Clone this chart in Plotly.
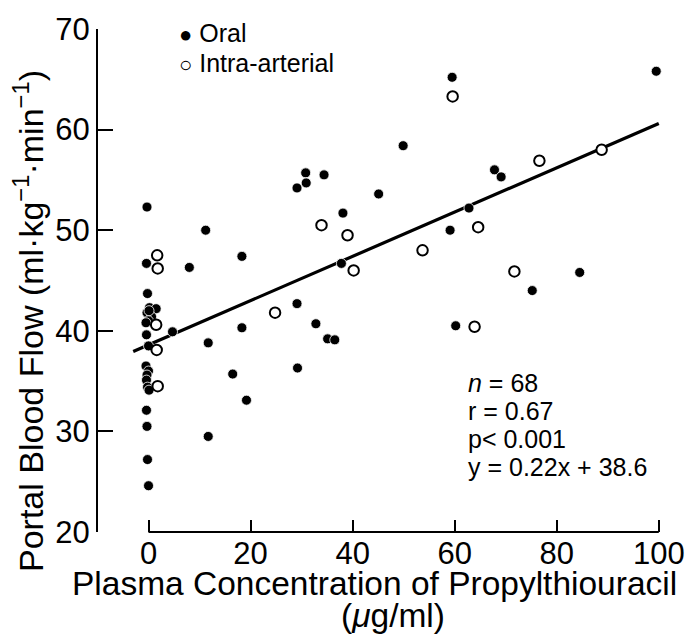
import plotly.graph_objects as go

# ==========================================
# DATA
# ==========================================
oral_x = [-0.3, -0.4, 8.0, -0.2, 0.2, 1.5, -0.3, 0.6, 0.0, -0.5, 4.7, -0.4, 0.0,
          -0.5, 0.0, -0.3, -0.4, -0.2, 0.1, -0.4, -0.3, -0.2, 0.0, 0.1,
          11.2, 11.7, 11.7, 16.5, 18.3, 18.3, 19.2, 29.1, 29.2, 29.1, 30.8, 30.9,
          32.8, 34.4, 35.1, 36.5, 37.8, 38.1, 45.1, 49.9, 59.1, 59.5, 60.2, 62.8,
          67.8, 69.1, 75.2, 84.5, 99.5]
oral_y = [52.3, 46.7, 46.3, 43.7, 42.3, 42.2, 41.8, 41.4, 41.0, 40.8, 39.9, 39.6, 38.5,
          36.5, 36.0, 35.6, 35.1, 34.4, 34.1, 32.1, 30.5, 27.2, 24.6, 42.0,
          50.0, 38.8, 29.5, 35.7, 40.3, 47.4, 33.1, 42.7, 36.3, 54.2, 55.7, 54.7,
          40.7, 55.5, 39.2, 39.1, 46.7, 51.7, 53.6, 58.4, 50.0, 65.2, 40.5, 52.2,
          56.0, 55.3, 44.0, 45.8, 65.8]

ia_x = [1.7, 1.8, 1.5, 1.6, 1.8, 24.8, 33.9, 39.0, 40.2, 53.7, 59.6, 64.6, 63.9,
        71.7, 76.6, 88.8]
ia_y = [47.5, 46.2, 40.6, 38.1, 34.5, 41.8, 50.5, 49.5, 46.0, 48.0, 63.3, 50.3, 40.4,
        45.9, 56.9, 58.0]

# regression reported on the figure
slope = 0.22
intercept = 38.6
fit_x = [-3.0, 100.0]
fit_y = [slope * v + intercept for v in fit_x]

x_ticks = [0, 20, 40, 60, 80, 100]
y_ticks = [20, 30, 40, 50, 60, 70]

stats_lines = ["<i>n</i> = 68", "r = 0.67", "p< 0.001", "y = 0.22x + 38.6"]
legend_labels = ["Oral", "Intra-arterial"]
legend_glyphs = ["●", "○"]

x_title = ["Plasma Concentration of Propylthiouracil", "(<i>μ</i>g/ml)"]
y_title = "Portal Blood Flow (ml·kg<sup>−1</sup>·min<sup>−1</sup>)"

FONT = "Liberation Sans, Arial, Helvetica, sans-serif"

# plot area in pixels (used to place the free text)
PLOT_TOP, PLOT_BOTTOM = 23, 532
PLOT_LEFT, PLOT_RIGHT = 98, 673


def py(pix):
    return (PLOT_BOTTOM - pix) / (PLOT_BOTTOM - PLOT_TOP)


def px(pix):
    return (pix - PLOT_LEFT) / (PLOT_RIGHT - PLOT_LEFT)


fig = go.Figure()

fig.add_trace(
    go.Scatter(
        x=fit_x,
        y=fit_y,
        mode="lines",
        line=dict(color="black", width=3.2),
        showlegend=False,
        hoverinfo="skip",
    )
)

fig.add_trace(
    go.Scatter(
        x=oral_x,
        y=oral_y,
        mode="markers",
        name="Oral",
        marker=dict(symbol="circle", size=10, color="black",
                    line=dict(color="white", width=0.8)),
    )
)

fig.add_trace(
    go.Scatter(
        x=ia_x,
        y=ia_y,
        mode="markers",
        name="Intra-arterial",
        marker=dict(symbol="circle", size=10.5, color="white",
                    line=dict(color="black", width=2)),
    )
)

# detached x axis line (0 to 100), as in the original range-frame style
fig.add_shape(
    type="line", xref="x", yref="paper",
    x0=x_ticks[0], x1=x_ticks[-1], y0=0, y1=0,
    line=dict(color="black", width=2),
)

# stats block, one line each so the line spacing stays tight
for i, line in enumerate(stats_lines):
    fig.add_annotation(
        text=line,
        xref="paper", yref="paper",
        x=px(469), y=py(381 + i * 28.4),
        xanchor="left", yanchor="middle",
        showarrow=False,
        font=dict(family=FONT, size=25, color="black"),
    )

# legend drawn as text, symbol hugging the label like the original
for i, (glyph, label) in enumerate(zip(legend_glyphs, legend_labels)):
    fig.add_annotation(
        text=f"<span style='font-size:22px'>{glyph}</span> {label}",
        xref="paper", yref="paper",
        x=px(178), y=py(27 + i * 30),
        xanchor="left", yanchor="middle",
        showarrow=False,
        font=dict(family=FONT, size=25, color="black"),
    )

# axis titles
fig.add_annotation(
    text=x_title[0],
    xref="paper", yref="paper",
    x=px(376), y=py(584),
    xanchor="center", yanchor="middle",
    showarrow=False,
    font=dict(family=FONT, size=33.5, color="black"),
)
fig.add_annotation(
    text=x_title[1],
    xref="paper", yref="paper",
    x=px(395), y=py(616),
    xanchor="center", yanchor="middle",
    showarrow=False,
    font=dict(family=FONT, size=33.5, color="black"),
)
fig.add_annotation(
    text=y_title,
    xref="paper", yref="paper",
    x=px(28), y=py(318),
    xanchor="center", yanchor="middle",
    textangle=-90,
    showarrow=False,
    font=dict(family=FONT, size=34, color="black"),
)

fig.update_xaxes(
    range=[-9.9, 102],
    tickvals=x_ticks,
    ticks="inside",
    ticklen=12,
    tickwidth=2,
    tickcolor="black",
    showline=False,
    showgrid=False,
    zeroline=False,
    tickfont=dict(family=FONT, size=31, color="black"),
)

fig.update_yaxes(
    range=[20, 70],
    tickvals=y_ticks,
    ticks="inside",
    ticklen=15,
    tickwidth=2,
    tickcolor="black",
    showline=True,
    linecolor="black",
    linewidth=2,
    showgrid=False,
    zeroline=False,
    tickfont=dict(family=FONT, size=31, color="black"),
)

fig.update_layout(
    width=697,
    height=634,
    margin=dict(l=PLOT_LEFT, r=697 - PLOT_RIGHT, t=PLOT_TOP, b=634 - PLOT_BOTTOM),
    plot_bgcolor="white",
    paper_bgcolor="white",
    showlegend=False,
)

# the page's default body margin would push the 697x634 figure off the window
fig.write_html(
    "out.html",
    config={"displayModeBar": False},
    post_script="document.body.style.margin='0';document.body.style.overflow='hidden';",
)
